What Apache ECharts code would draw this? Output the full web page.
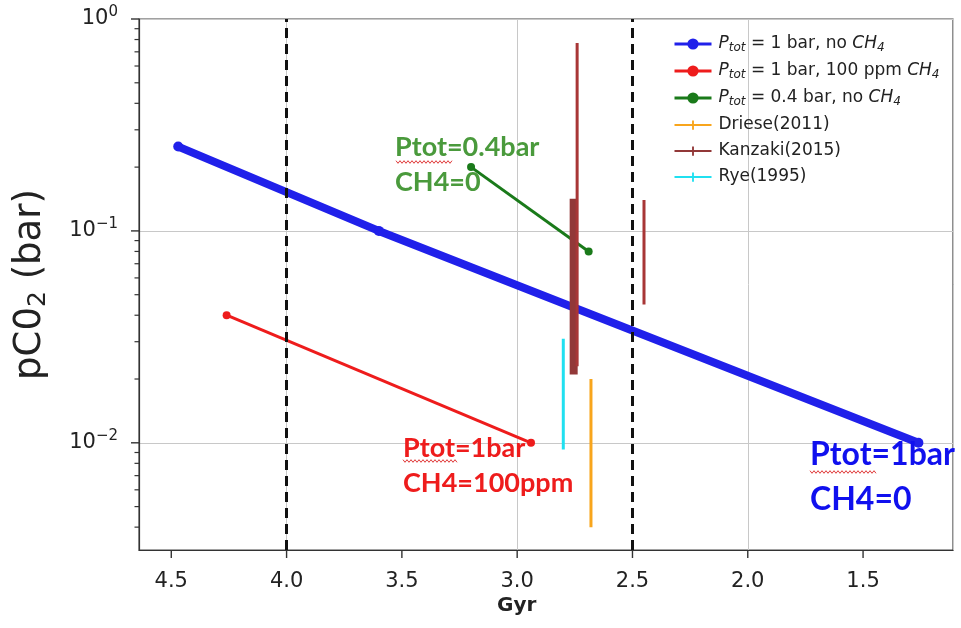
<!DOCTYPE html>
<html>
<head>
<meta charset="utf-8">
<script src="https://cdn.jsdelivr.net/npm/echarts@6/dist/echarts.min.js"></script>
<style>html,body{margin:0;padding:0;background:#fff;}#c{width:961px;height:628px;}</style>
</head>
<body>
<div id="c"></div>
<script>
// ---- data (age in Gyr, pCO2 in bar) ----
const blueAge = [4.47, 3.6, 1.26];
const bluePco2 = [0.25, 0.1, 0.01];
const redAge = [4.26, 2.94];
const redPco2 = [0.04, 0.01];
const greenAge = [3.2, 2.69];
const greenPco2 = [0.2, 0.08];
// error-bar style ranges: [age, low, high]
const drieseBars = [[2.68, 0.004, 0.02]];
const kanzakiThin = [[2.74, 0.023, 0.77], [2.45, 0.045, 0.14]];
const kanzakiThick = [[2.755, 0.021, 0.142]];
const ryeBars = [[2.8, 0.0093, 0.031]];
const boundaryAges = [4.0, 2.5];
const xTicks = [4.5, 4.0, 3.5, 3.0, 2.5, 2.0, 1.5];
const yMajorTicks = [0.01, 0.1, 1];
const yMinorTicks = [0.004,0.005,0.006,0.007,0.008,0.009,0.02,0.03,0.04,0.05,0.06,0.07,0.08,0.09,0.2,0.3,0.4,0.5,0.6,0.7,0.8,0.9];
const X_MIN = 1.11, X_MAX = 4.64, Y_MIN = 0.00312, Y_MAX = 1;
const GRID = {left:139, right:8, top:19, bottom:78};

const names = {
  blue: '{i|P}{sub|tot} = 1 bar, no {i|CH}{sub|4}',
  red: '{i|P}{sub|tot} = 1 bar, 100 ppm {i|CH}{sub|4}',
  green: '{i|P}{sub|tot} = 0.4 bar, no {i|CH}{sub|4}',
  driese: 'Driese(2011)',
  kanzaki: 'Kanzaki(2015)',
  rye: 'Rye(1995)'
};
const COL = {blue:'#2020ea', red:'#ee1c1c', green:'#1a7a1a', driese:'#f8a51c', kanzaki:'#a83636', kanzakiThick:'#923838', rye:'#20e0f0'};

function pairs(xs, ys){ return xs.map((x,i)=>[x, ys[i]]); }
function barSeries(name, bars, color, width){
  const out = [];
  bars.forEach(b => {
    out.push({type:'line', name:name, data:[[b[0], b[1]], [b[0], b[2]]], symbol:'none',
      lineStyle:{color:color, width:width}, itemStyle:{color:color}, z:4, silent:true});
  });
  return out;
}

const plusIcon = 'path://M0,4 H40 V6 H0 Z M19,0 H21 V10 H19 Z';

function wavy(x0, x1, y){
  const pts = [];
  let k = 0;
  for (let x = x0; x <= x1; x += 2) { pts.push([x, y + (k % 2 ? 1.3 : -1.3)]); k++; }
  return {type:'polyline', shape:{points:pts}, style:{stroke:'#e03a3a', lineWidth:1, fill:null}, z:100};
}

// ---- tick marks (same log/linear mapping as the axes of the grid) ----
const W = 961, H = 628;
const plotW = W - GRID.left - GRID.right, plotH = H - GRID.top - GRID.bottom;
function xPx(x){ return GRID.left + (X_MAX - x) / (X_MAX - X_MIN) * plotW; }
function yPx(y){ return GRID.top + (Math.log10(Y_MAX) - Math.log10(y)) / (Math.log10(Y_MAX) - Math.log10(Y_MIN)) * plotH; }
const tickGraphics = [];
function tickRect(x, y, w, h){
  tickGraphics.push({type:'rect', silent:true, z:100, shape:{x:x, y:y, width:w, height:h}, style:{fill:'#333'}});
}
yMajorTicks.forEach(v => tickRect(GRID.left - 8, yPx(v) - 0.7, 8, 1.4));
yMinorTicks.forEach(v => tickRect(GRID.left - 4.5, yPx(v) - 0.6, 4.5, 1.2));
xTicks.forEach(v => tickRect(xPx(v) - 0.7, H - GRID.bottom, 1.4, 8));

const labelRich = {b:{fontSize:21, color:'#222', fontFamily:'DejaVu Sans'}, s:{fontSize:15, color:'#222', fontFamily:'DejaVu Sans', padding:[0,0,13,0]}};

const chart = echarts.init(document.getElementById('c'));
const option = {
  animation:false,
  backgroundColor:'#fff',
  grid:{left:GRID.left, right:GRID.right, top:GRID.top, bottom:GRID.bottom, show:true, borderColor:'#444', borderWidth:1.2, backgroundColor:'transparent'},
  xAxis:{
    type:'value', inverse:true, min:X_MIN, max:X_MAX,
    axisLine:{show:true, lineStyle:{color:'#333', width:1.2}},
    axisTick:{show:false},
    axisLabel:{customValues:xTicks, formatter:v=>v.toFixed(1), fontSize:21, color:'#222', fontFamily:'DejaVu Sans', margin:21},
    splitLine:{show:true, lineStyle:{color:'#c8c8c8', width:1}}
  },
  yAxis:{
    type:'log', logBase:10, min:Y_MIN, max:Y_MAX,
    name:'{a|pC0}{s|2}{a| (bar)}', nameLocation:'middle', nameGap:88,
    nameTextStyle:{rich:{a:{fontSize:37, color:'#222', fontFamily:'DejaVu Sans'}, s:{fontSize:25, color:'#222', fontFamily:'DejaVu Sans', padding:[17,0,0,0]}}},
    axisLine:{show:true, lineStyle:{color:'#333', width:1.2}},
    axisTick:{show:false},
    axisLabel:{margin:21, formatter:function(v){
        const l = Math.log10(v), e = Math.round(l);
        if (Math.abs(l - e) > 1e-6) return '';
        return '{b|10}{s|' + (e < 0 ? '\u2212' + (-e) : e) + '}';
      },
      rich:labelRich},
    splitLine:{show:true, lineStyle:{color:'#c8c8c8', width:1}}
  },
  legend:{
    orient:'vertical', left:668, top:30, itemWidth:37, itemHeight:14, itemGap:8,
    lineStyle:{width:3},
    textStyle:{fontSize:17, color:'#222', fontFamily:'DejaVu Sans', lineHeight:18, padding:[0,0,0,2],
      rich:{i:{fontStyle:'italic', fontSize:17, fontFamily:'DejaVu Sans', color:'#222', lineHeight:18},
            sub:{fontStyle:'italic', fontSize:12, fontFamily:'DejaVu Sans', color:'#222', padding:[8,0,0,0]}}},
    data:[
      {name:names.blue}, {name:names.red}, {name:names.green},
      {name:names.driese, icon:plusIcon}, {name:names.kanzaki, icon:plusIcon}, {name:names.rye, icon:plusIcon}
    ]
  },
  series:[
    {type:'line', name:names.blue, data:pairs(blueAge, bluePco2), symbol:'circle', symbolSize:10,
      lineStyle:{color:COL.blue, width:8}, itemStyle:{color:COL.blue}, z:2},
    {type:'line', name:names.red, data:pairs(redAge, redPco2), symbol:'circle', symbolSize:8,
      lineStyle:{color:COL.red, width:3}, itemStyle:{color:COL.red}, z:2},
    {type:'line', name:names.green, data:pairs(greenAge, greenPco2), symbol:'circle', symbolSize:8,
      lineStyle:{color:COL.green, width:3}, itemStyle:{color:COL.green}, z:2},
    ...barSeries(names.driese, drieseBars, COL.driese, 3),
    ...barSeries(names.kanzaki, kanzakiThick, COL.kanzakiThick, 8),
    ...barSeries(names.kanzaki, kanzakiThin, COL.kanzaki, 3),
    ...barSeries(names.rye, ryeBars, COL.rye, 3),
    {type:'line', name:'boundaries', data:[], z:6, silent:true,
      markLine:{silent:true, symbol:['none','none'], label:{show:false},
        lineStyle:{color:'#111', width:3, type:[10,6]},
        data:boundaryAges.map(a=>({xAxis:a}))}}
  ],
  graphic:[
    {type:'text', left:395, top:130, z:100, style:{text:'Ptot=0.4bar\nCH4=0', font:'bold 27px Lato', lineHeight:35, fill:'#4a9a3c'}},
    {type:'text', left:403, top:431, z:100, style:{text:'Ptot=1bar\nCH4=100ppm', font:'bold 27px Lato', lineHeight:35, fill:'#ee1c1c'}},
    {type:'text', left:810, top:432, z:100, style:{text:'Ptot=1bar\nCH4=0', font:'bold 32px Lato', lineHeight:45, fill:'#1010ee'}},
    {type:'text', left:497, top:596, z:100, style:{text:'Gyr', font:'bold 20px "DejaVu Sans"', fill:'#222'}},
    wavy(396, 452, 162), wavy(403, 458, 461), wavy(810, 877, 472)
  ].concat(tickGraphics)
};
chart.setOption(option);
</script>
</body>
</html>
